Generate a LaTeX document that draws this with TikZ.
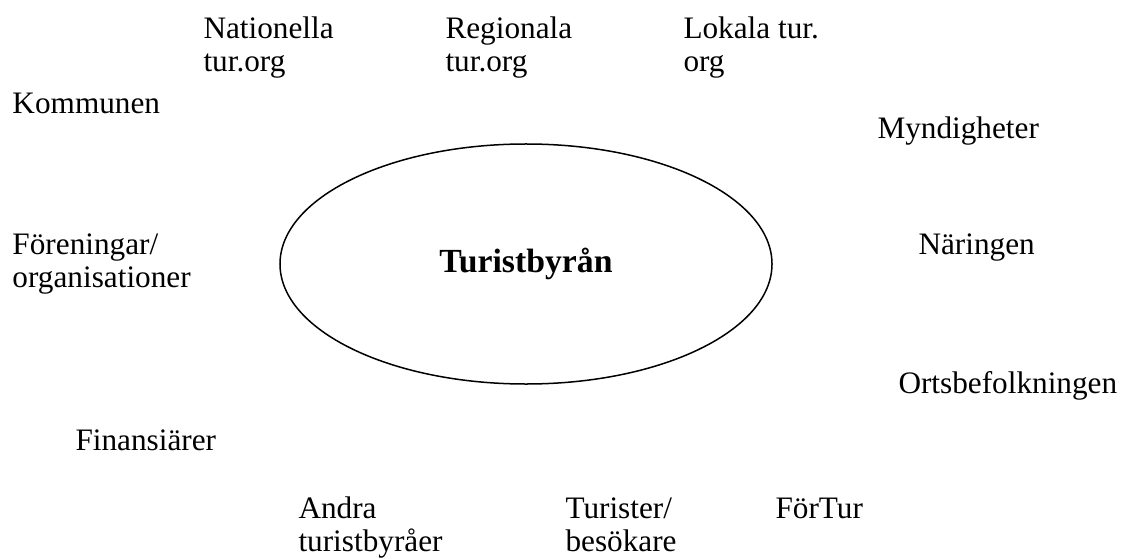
\documentclass[tikz,border=0pt]{standalone}
\usepackage{fontspec}
\setmainfont{Liberation Serif}
\usetikzlibrary{shapes.geometric}

\tikzset{
	actor/.style={anchor=north west, align=left, inner sep=0pt, font=\fontsize{12.5}{13.2}\selectfont},
	hub/.style={draw, ellipse, line width=0.6pt, minimum width=196.8pt, minimum height=96pt, inner sep=0pt, font=\fontsize{13.5}{15}\selectfont\bfseries}
}

\begin{document}
\begin{tikzpicture}[x=0.4pt, y=-0.4pt]
	\useasboundingbox (0,0) rectangle (1126,559);
	% centre
	\node[hub] (byran) at (526,264) {Turistbyrån};
	% top row
	\node[actor] (nationella) at (203,15) {\strut Nationella\\tur.org};
	\node[actor] (regionala) at (445,15) {\strut Regionala\\tur.org};
	\node[actor] (lokala) at (683,15) {\strut Lokala tur.\\org};
	% sides
	\node[actor] (kommunen) at (12,90) {\strut Kommunen};
	\node[actor] (myndigheter) at (877,115) {\strut Myndigheter};
	\node[actor] (foreningar) at (12,231) {\strut Föreningar/\\organisationer};
	\node[actor] (naringen) at (918,231) {\strut Näringen};
	\node[actor] (orts) at (898,370) {\strut Ortsbefolkningen};
	\node[actor] (finans) at (75,427) {\strut Finansiärer};
	% bottom row
	\node[actor] (andra) at (298,495) {\strut Andra\\turistbyråer};
	\node[actor] (turister) at (565,495) {\strut Turister/\\besökare};
	\node[actor] (fortur) at (775,495) {\strut FörTur};
\end{tikzpicture}
\end{document}
